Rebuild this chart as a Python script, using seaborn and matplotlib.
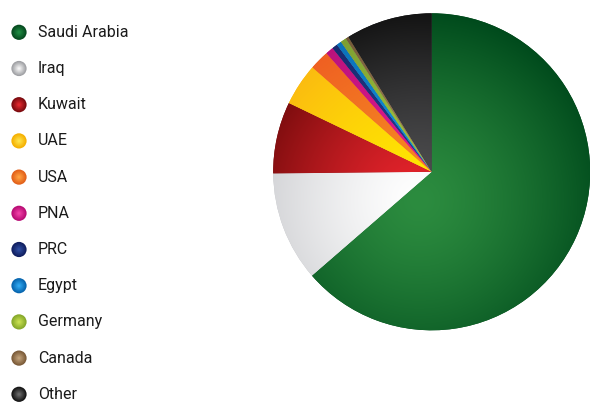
import numpy as np
import pandas as pd
import matplotlib
matplotlib.use("Agg")
import matplotlib.pyplot as plt
import matplotlib.colors as mcolors
import seaborn as sns

countries = ["Saudi Arabia", "Iraq", "Kuwait", "UAE", "USA", "PNA", "PRC",
             "Egypt", "Germany", "Canada", "Other"]
shares = [63.6, 11.2, 7.3, 4.3, 2.0, 0.8, 0.55, 0.5, 0.6, 0.3, 8.8]

# light (centre) and dark (rim) tone of every slice
light_tones = ["#2c8c3f", "#ffffff", "#e8242c", "#ffe900", "#f68a22", "#e4198f",
               "#23408f", "#1497df", "#a5c940", "#a88a5e", "#505052"]
dark_tones = ["#004a1c", "#c4c5c9", "#650808", "#fbb413", "#ee5a22", "#b5127a",
              "#16286b", "#0a6cb4", "#7a9a30", "#6e5434", "#121212"]
# legend balls: rim tone and highlight tone
ball_rim = ["#064a1f", "#9fa0a4", "#7a0a0e", "#f5b000", "#e2601a", "#b80c74",
            "#111f60", "#0664ae", "#86a82a", "#7a5a38", "#141414"]
ball_core = ["#1e8a42", "#f4f4f4", "#e2282e", "#ffe24a", "#ffa040", "#f040a6",
             "#2e4ca0", "#30a8f0", "#c8e050", "#c0a078", "#6a6a6a"]

df = pd.DataFrame({"country": countries, "share": shares, "row": range(len(countries))})

sns.set_theme(style="white")
plt.rcParams["font.family"] = ["Roboto", "DejaVu Sans"]

W, H = 590, 403
fig = plt.figure(figsize=(W / 100, H / 100), dpi=100)

# ---- pie -------------------------------------------------------------
cx, cy, r = 431.7, 171.8, 158.5
half = 162
ax = fig.add_axes([(cx - half) / W, (H - cy - half) / H, 2 * half / W, 2 * half / H])
lim = half / r
wedges, _ = ax.pie(df["share"], startangle=90, counterclock=False, radius=1,
                   colors=dark_tones, wedgeprops=dict(linewidth=0))
ax.set_xlim(-lim, lim)
ax.set_ylim(-lim, lim)
ax.set_aspect("equal")
ax.axis("off")

n = 600
gx, gy = np.meshgrid(np.linspace(-lim, lim, n), np.linspace(lim, -lim, n))
hx, hy = -0.08, -0.18
dist = np.clip(np.hypot(gx - hx, gy - hy) / 1.2, 0, 1) ** 1.4
for w, lt, dk in zip(wedges, light_tones, dark_tones):
    c0 = np.array(mcolors.to_rgb(lt))
    c1 = np.array(mcolors.to_rgb(dk))
    img = c0[None, None, :] * (1 - dist[..., None]) + c1[None, None, :] * dist[..., None]
    im = ax.imshow(img, extent=[-lim, lim, -lim, lim], zorder=2, interpolation="bilinear")
    im.set_clip_path(w)

# ---- legend ----------------------------------------------------------
lax = fig.add_axes([0, 0, 160 / W, 1])
row0, step = 32.3, 36.2
xs = np.full(len(df), 19.0)
layers = 8
for k in range(layers):
    f = k / (layers - 1)
    size = 120 * (1 - 0.85 * f) ** 2
    pal = [mcolors.to_hex(np.array(mcolors.to_rgb(a)) * (1 - f) + np.array(mcolors.to_rgb(b)) * f)
           for a, b in zip(ball_rim, ball_core)]
    sns.scatterplot(data=df, x=xs, y="row", hue="country", palette=pal,
                    s=size, linewidth=0, legend=False, ax=lax)
for i, name in enumerate(countries):
    lax.text(38, i, name, va="center", ha="left", fontsize=11.5, color="#1a1a1a")
lax.set_xlim(0, 160)
lax.set_ylim((H - row0) / step, -row0 / step)
lax.axis("off")

fig.savefig("out.png", dpi=100)
